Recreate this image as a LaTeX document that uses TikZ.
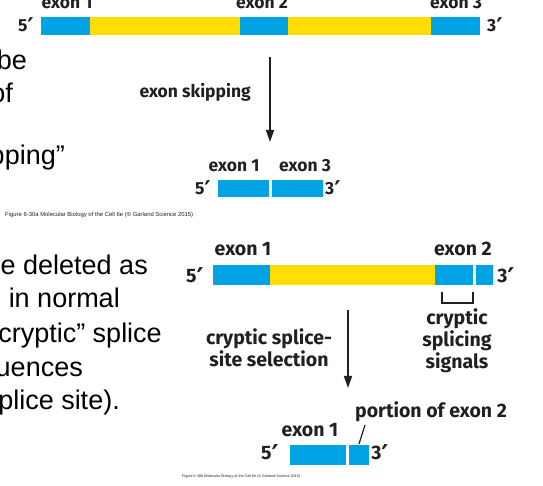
\documentclass[tikz,border=0pt]{standalone}
\usepackage{fontspec}
\setmainfont{Liberation Sans}
\newfontfamily\labfont{Fira Sans}
\newfontfamily\primefont{DejaVu Sans}[Scale=1.4]
\newcommand\prm{\raisebox{-0.22em}{\primefont\bfseries ′}}
\usetikzlibrary{positioning, arrows.meta}
\definecolor{exonblue}{HTML}{00A3E4}
\definecolor{intronyellow}{HTML}{FFDD00}
\definecolor{labgray}{HTML}{231F20}

\begin{document}
\begin{tikzpicture}[x=1pt, y=1pt,
	lab/.style={font=\labfont\bfseries\fontsize{17.5}{20}\selectfont, text=labgray, inner sep=0pt, anchor=base},
	labb/.style={lab, font=\labfont\bfseries\fontsize{19.5}{22}\selectfont},
	labs/.style={labb, align=center},
	body/.style={font=\fontsize{27}{30}\selectfont, inner sep=0pt, anchor=base east},
	figcap/.style={text=labgray, inner sep=0pt, anchor=base west},
	flow/.style={-{Triangle[width=8pt,length=12pt]}, line width=1.5pt, labgray}]
	\useasboundingbox (0,0) rectangle (543,486);
	\clip (0,0) rectangle (543,486);
	% left slide text (cut off)
	\node[body] (t1) at (27,416) {be};
	\node[body] (t2) at (13,383) {of};
	\node[body] (t3) at (65,321) {pping”};
	\node[body] (t4) at (148,211) {e deleted as};
	\node[body] (t5) at (120,178) {in normal};
	\node[body] (t6) at (162,143) {cryptic” splice};
	\node[body] (t7) at (83,109) {uences};
	\node[body] (t8) at (120,76) {plice site).};
	% (a) pre-mRNA
	\fill[exonblue] (41,451) rectangle (90,469); \fill[intronyellow] (90,451) rectangle (240,469);
	\fill[exonblue] (240,451) rectangle (288,469); \fill[intronyellow] (288,451) rectangle (431,469);
	\fill[exonblue] (431,451) rectangle (480,469);
	\node[lab] (ea1) at (67,477) {exon 1};
	\node[lab] (ea2) at (262,477) {exon 2};
	\node[lab] (ea3) at (456,477) {exon 3};
	\node[lab] (pa5) at (26,454) {5\prm};
	\node[lab] (pa3) at (495,454) {3\prm};
	\coordinate (sa) at (270,429); \coordinate (sb) at (270,344);
	\draw[flow] (sa) -- (sb);
	\node[lab, anchor=base east] (skip) at (251,388) {exon skipping};
	% (a) mRNA
	\fill[exonblue] (218,289) rectangle (269,306); \fill[exonblue] (272,289) rectangle (323,306);
	\node[lab] (eb1) at (234,314) {exon 1};
	\node[lab] (eb3) at (305,314) {exon 3};
	\node[lab] (pb5) at (203,291) {5\prm};
	\node[lab] (pb3) at (333,291) {3\prm};
	\node[figcap, font=\fontsize{5.9}{7}\selectfont] (capa) at (5,269) {Figure 6-30a Molecular Biology of the Cell 6e (© Garland Science 2015)};
	% (b) pre-mRNA
	\fill[exonblue] (213,201) rectangle (270,221); \fill[intronyellow] (270,201) rectangle (435,221);
	\fill[exonblue] (435,201) rectangle (473,221); \fill[exonblue] (476,201) rectangle (493,221);
	\node[labb] (ec1) at (243,230) {exon 1};
	\node[labb] (ec2) at (463,230) {exon 2};
	\node[labb] (pc5) at (195,203) {5\prm};
	\node[labb] (pc3) at (506,203) {3\prm};
	\draw[line width=1.2pt, labgray] (442,194) -- (442,183) -- (473,183) -- (473,194);
	\node[labs] (sig) at (457,117) {cryptic\\splicing\\signals};
	\node[labs] (sel) at (269,119) {cryptic splice-\\site selection};
	\coordinate (ca) at (348,176); \coordinate (cb) at (348,98);
	\draw[flow] (ca) -- (cb);
	% (b) mRNA
	\fill[exonblue] (290,21) rectangle (346,41); \fill[exonblue] (349,21) rectangle (369,41);
	\node[labb] (ed1) at (310,49) {exon 1};
	\node[labb, anchor=base west] (part) at (355,68) {portion of exon 2};
	\coordinate (pl) at (365,61); \coordinate (pr) at (359,42);
	\draw[line width=1.2pt, labgray] (pl) -- (pr);
	\node[labb] (pd5) at (270,26) {5\prm};
	\node[labb] (pd3) at (380,26) {3\prm};
	\node[figcap, font=\fontsize{3.7}{4}\selectfont] (capb) at (182,8) {Figure 6-30b Molecular Biology of the Cell 6e (© Garland Science 2015)};
\end{tikzpicture}
\end{document}
